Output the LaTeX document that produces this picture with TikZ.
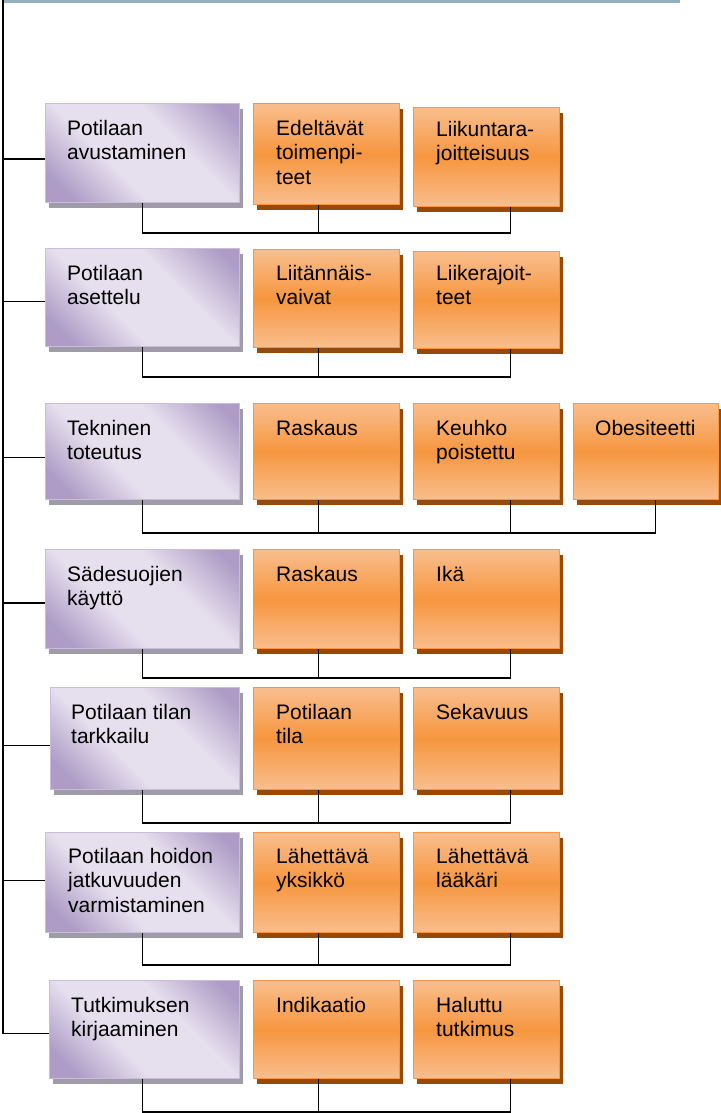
\documentclass[tikz,border=0pt]{standalone}
\usepackage{fontspec}
\setmainfont{Liberation Sans}
\usetikzlibrary{shadows,calc}
\definecolor{purpdark}{HTML}{AE9CC6}
\definecolor{purplight}{HTML}{E6E0EE}
\definecolor{purpline}{HTML}{C9BDDB}
\definecolor{purpshadow}{HTML}{A09BA8}
\definecolor{orangemid}{HTML}{F7963F}
\definecolor{orangelight}{HTML}{F9BE8E}
\definecolor{orangeline}{HTML}{F79646}
\definecolor{orangeshadow}{HTML}{984807}
\definecolor{barcolor}{HTML}{93B1BB}
\pgfdeclarehorizontalshading{purpdiag}{100bp}{color(0bp)=(purpdark); color(22bp)=(purpdark); color(40bp)=(purplight); color(61bp)=(purplight); color(80bp)=(purpdark); color(100bp)=(purpdark)}
\begin{document}
\begin{tikzpicture}[x=1pt,y=-1pt,
    taskbox/.style={anchor=north west, inner sep=0pt, draw=purpline, line width=1.2pt,
      shade, shading=purpdiag, shading angle=45, minimum width=194pt, minimum height=98pt,
      drop shadow={shadow xshift=3pt, shadow yshift=-5pt, fill=purpshadow, opacity=1}},
    factorbox/.style={anchor=north west, inner sep=0pt, draw=orangeline, line width=1.2pt,
      top color=orangelight, bottom color=orangelight, middle color=orangemid,
      minimum width=146pt, minimum height=98pt,
      drop shadow={shadow xshift=3pt, shadow yshift=-5pt, fill=orangeshadow, opacity=1}},
    boxtext/.style={anchor=north west, inner sep=0pt, align=left,
      font=\fontsize{21}{24.5}\selectfont},
    wire/.style={draw=black, line width=1.5pt}]
  \useasboundingbox (0,0) rectangle (720,1113);
  \fill[barcolor] (3,0) rectangle (680,3.5);
  \coordinate (trunk) at (3,0);

  % rivi 1
  \node[taskbox, minimum height=99pt] (p1) at (45,103) {};
  \node[factorbox, minimum height=101pt] (f1a) at (253,103) {};
  \node[factorbox, minimum height=99pt] (f1b) at (413,107) {};
  \node[boxtext] (t1) at ([shift={(22,17)}]p1.north west) {Potilaan\\avustaminen};
  \node[boxtext] (t1a) at ([shift={(23,17)}]f1a.north west) {Edeltävät\\toimenpi-\\teet};
  \node[boxtext] (t1b) at ([shift={(23,14)}]f1b.north west) {Liikuntara-\\joitteisuus};

  % rivi 2
  \node[taskbox] (p2) at (45,248) {};
  \node[factorbox] (f2a) at (253,249) {};
  \node[factorbox, minimum height=97pt] (f2b) at (413,251) {};
  \node[boxtext] (t2) at ([shift={(22,17)}]p2.north west) {Potilaan\\asettelu};
  \node[boxtext] (t2a) at ([shift={(23,16)}]f2a.north west) {Liitännäis-\\vaivat};
  \node[boxtext] (t2b) at ([shift={(23,14)}]f2b.north west) {Liikerajoit-\\teet};

  % rivi 3
  \node[taskbox, minimum height=96pt] (p3) at (45,403) {};
  \node[factorbox, minimum height=96pt] (f3a) at (253,403) {};
  \node[factorbox, minimum height=96pt] (f3b) at (413,403) {};
  \node[factorbox, minimum height=96pt, minimum width=145pt] (f3c) at (573,403) {};
  \node[boxtext] (t3) at ([shift={(22,17)}]p3.north west) {Tekninen\\toteutus};
  \node[boxtext] (t3a) at ([shift={(23,17)}]f3a.north west) {Raskaus};
  \node[boxtext] (t3b) at ([shift={(23,17)}]f3b.north west) {Keuhko\\poistettu};
  \node[boxtext] (t3c) at ([shift={(22,17)}]f3c.north west) {Obesiteetti};

  % rivi 4
  \node[taskbox, minimum height=99pt] (p4) at (45,549) {};
  \node[factorbox, minimum height=99pt] (f4a) at (253,549) {};
  \node[factorbox, minimum height=99pt] (f4b) at (413,549) {};
  \node[boxtext] (t4) at ([shift={(22,17)}]p4.north west) {Sädesuojien\\käyttö};
  \node[boxtext] (t4a) at ([shift={(23,17)}]f4a.north west) {Raskaus};
  \node[boxtext] (t4b) at ([shift={(23,17)}]f4b.north west) {Ikä};

  % rivi 5
  \node[taskbox, minimum height=102pt, minimum width=189pt] (p5) at (50,687) {};
  \node[factorbox, minimum height=102pt] (f5a) at (253,687) {};
  \node[factorbox, minimum height=102pt] (f5b) at (413,687) {};
  \node[boxtext] (t5) at ([shift={(21,17)}]p5.north west) {Potilaan tilan\\tarkkailu};
  \node[boxtext] (t5a) at ([shift={(23,17)}]f5a.north west) {Potilaan\\tila};
  \node[boxtext] (t5b) at ([shift={(23,17)}]f5b.north west) {Sekavuus};

  % rivi 6
  \node[taskbox, minimum height=100pt] (p6) at (45,832) {};
  \node[factorbox, minimum height=100pt] (f6a) at (253,832) {};
  \node[factorbox, minimum height=100pt] (f6b) at (413,832) {};
  \node[boxtext] (t6) at ([shift={(23,16)}]p6.north west) {Potilaan hoidon\\jatkuvuuden\\varmistaminen};
  \node[boxtext] (t6a) at ([shift={(23,16)}]f6a.north west) {Lähettävä\\yksikkö};
  \node[boxtext] (t6b) at ([shift={(23,16)}]f6b.north west) {Lähettävä\\lääkäri};

  % rivi 7
  \node[taskbox, minimum height=98pt, minimum width=190pt] (p7) at (49,980) {};
  \node[factorbox, minimum height=98pt] (f7a) at (253,980) {};
  \node[factorbox, minimum height=98pt] (f7b) at (413,980) {};
  \node[boxtext] (t7) at ([shift={(22,17)}]p7.north west) {Tutkimuksen\\kirjaaminen};
  \node[boxtext] (t7a) at ([shift={(23,17)}]f7a.north west) {Indikaatio};
  \node[boxtext] (t7b) at ([shift={(23,17)}]f7b.north west) {Haluttu\\tutkimus};

  % runko
  \begin{scope}[wire]
    \draw (trunk) |- ([yshift=-6pt]p1.west);
    \draw (trunk) |- ([yshift=-4pt]p2.west);
    \draw (trunk) |- ([yshift=-6pt]p3.west);
    \draw (trunk) |- ([yshift=-4pt]p4.west);
    \draw (trunk) |- ([yshift=-7pt]p5.west);
    \draw (trunk) |- ([yshift=2pt]p6.west);
    \draw (trunk) |- ([yshift=-4pt]p7.west);
  \end{scope}

  % alarivit
  \begin{scope}[wire]
    \draw (p1.south) -- ++(0,30) coordinate (b1) -| ($(f1b.south)+(24,0)$);
    \draw ($(f1a.south)+(-8,0)$) |- (b1);
    \draw (p2.south) -- ++(0,30) coordinate (b2) -| ($(f2b.south)+(24,0)$);
    \draw ($(f2a.south)+(-8,0)$) |- (b2);
    \draw (p3.south) -- ++(0,33) coordinate (b3) -| ($(f3c.south)+(9.5,0)$);
    \draw ($(f3a.south)+(-8,0)$) |- (b3);
    \draw ($(f3b.south)+(24,0)$) |- (b3);
    \draw (p4.south) -- ++(0,29) coordinate (b4) -| ($(f4b.south)+(24,0)$);
    \draw ($(f4a.south)+(-8,0)$) |- (b4);
    \draw ($(p5.south)+(-2.5,0)$) -- ++(0,33) coordinate (b5) -| ($(f5b.south)+(24,0)$);
    \draw ($(f5a.south)+(-8,0)$) |- (b5);
    \draw (p6.south) -- ++(0,32) coordinate (b6) -| ($(f6b.south)+(24,0)$);
    \draw ($(f6a.south)+(-8,0)$) |- (b6);
    \draw ($(p7.south)+(-2,0)$) -- ++(0,33) coordinate (b7) -| ($(f7b.south)+(24,0)$);
    \draw ($(f7a.south)+(-8,0)$) |- (b7);
  \end{scope}
\end{tikzpicture}
\end{document}
